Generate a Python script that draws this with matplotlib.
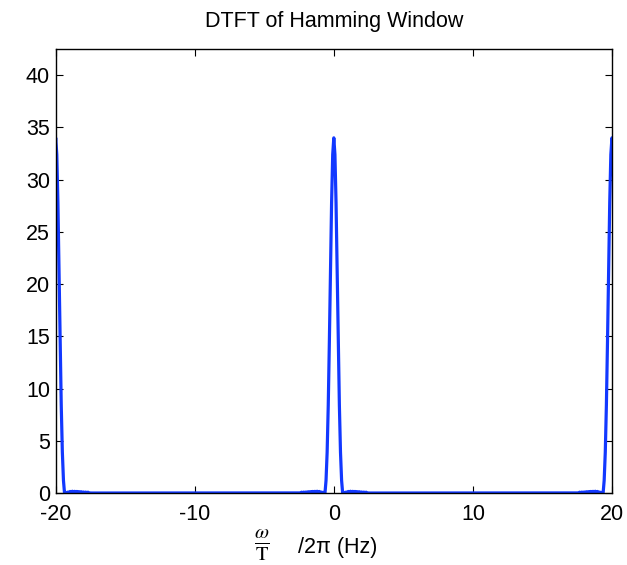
import matplotlib
matplotlib.use('Agg')
import matplotlib.pyplot as plt
import numpy as np

# frequencies of the three visible copies of the spectrum (Hz)
lobe_centers = [-20, 0, 20]

# one side of a lobe: offset from centre (Hz), |W|
half_offset = [0, 0.08, 0.16, 0.24, 0.32, 0.40, 0.48, 0.56, 0.635,
               0.72, 0.8, 0.88, 0.96, 1.04, 1.12, 1.2, 1.28, 1.36, 1.44,
               1.52, 1.6, 1.68, 1.76, 1.84, 1.92, 2.0, 2.08, 2.16, 2.24,
               2.32, 2.4, 2.6, 3.0]
half_mag = [34.0, 32.4, 27.8, 21.4, 14.5, 8.4, 3.9, 1.2, 0.0,
            0.06, 0.02, 0.09, 0.01, 0.15, 0.02, 0.17, 0.01, 0.16, 0.02,
            0.15, 0.01, 0.13, 0.02, 0.12, 0.01, 0.10, 0.01, 0.09, 0.01,
            0.08, 0.01, 0.0, 0.0]

xticks = [-20, -10, 0, 10, 20]
yticks = [0, 5, 10, 15, 20, 25, 30, 35, 40]

plt.rcParams['font.family'] = ['Liberation Sans', 'DejaVu Sans']
plt.rcParams['axes.unicode_minus'] = False

# whole lobe = mirrored half
off = np.concatenate([-np.array(half_offset[:0:-1]), half_offset])
mag = np.concatenate([half_mag[:0:-1], half_mag])

f = []
W = []
for c in lobe_centers:
    f.extend(c + off)
    W.extend(mag)

fig = plt.figure(figsize=(6.27, 5.65), dpi=100)
ax = fig.add_axes([0.0888, 0.1274, 0.8872, 0.7858])
ax.plot(f, W, color='#1238ff', linewidth=2.3)

ax.set_xlim(-20, 20)
ax.set_ylim(0, 42.5)
ax.set_xticks(xticks)
ax.set_yticks(yticks)
ax.tick_params(direction='in', top=True, right=True, length=5,
               labelsize=15.5, pad=4)
ax.tick_params(axis='x', pad=8)
for s in ax.spines.values():
    s.set_linewidth(1.0)

ax.set_title('DTFT of Hamming Window', fontsize=15.5, pad=16)

# x label: small fraction w/T followed by /2pi (Hz)
fig.text(262 / 627, 1 - 545 / 565, r'$\frac{\omega}{\mathrm{T}}$',
         ha='center', va='center', fontsize=21, math_fontfamily='stix')
fig.text(298 / 627, 1 - 548 / 565, '/2π (Hz)', ha='left', va='center',
         fontsize=15.5)

fig.savefig('out.png', dpi=100)
